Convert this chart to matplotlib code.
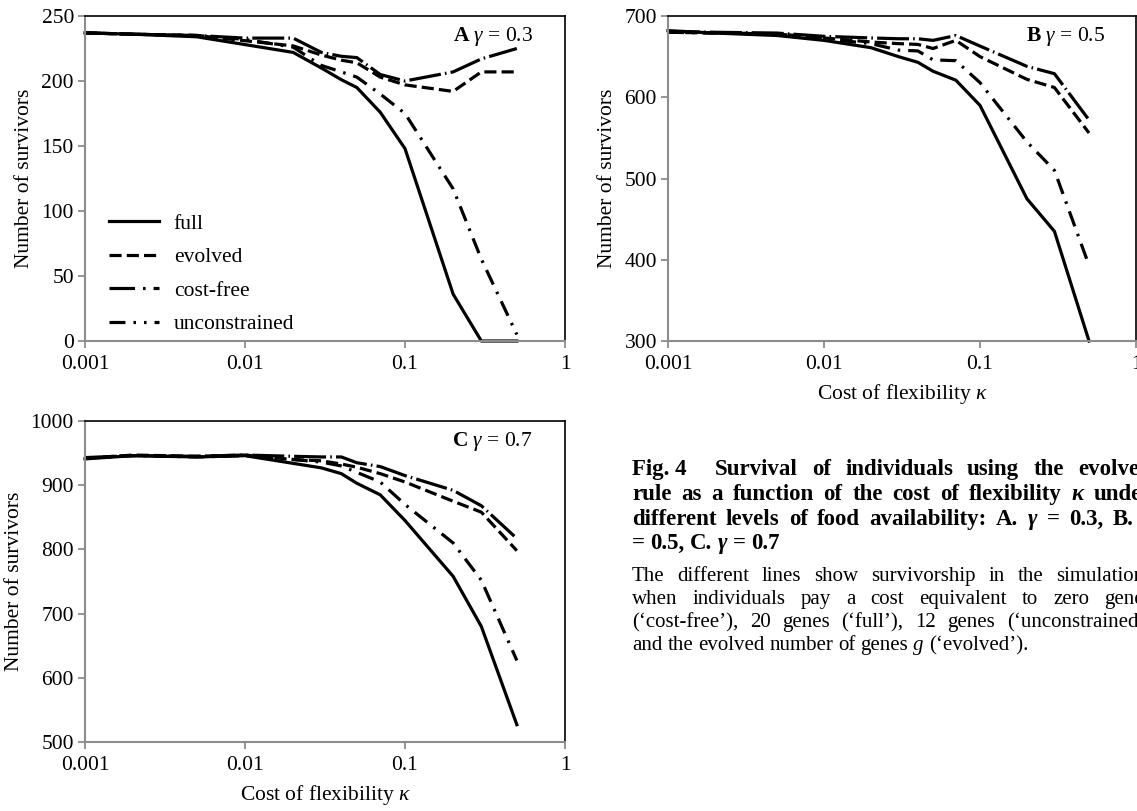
import matplotlib
matplotlib.use('Agg')
import matplotlib.pyplot as plt
from matplotlib.lines import Line2D
from matplotlib.ticker import NullLocator

plt.rcParams['font.family'] = 'Liberation Serif'
plt.rcParams['mathtext.fontset'] = 'custom'
plt.rcParams['mathtext.rm'] = 'Liberation Serif'
plt.rcParams['mathtext.it'] = 'Liberation Serif:italic'
plt.rcParams['mathtext.bf'] = 'Liberation Serif:bold'

# cost of flexibility (x values shared by all panels)
kappa = [0.001, 0.002, 0.005, 0.01, 0.02, 0.03, 0.04, 0.05, 0.07, 0.1, 0.2, 0.3, 0.5]

# A  gamma = 0.3
full_a = [237, 236, 234, 228, 222, 210, 201, 195, 176, 148, 36, 0, 0]
evolved_a = [237, 236, 235, 231, 227, 220, 216, 214, 203, 197, 192, 207, 207]
costfree_a = [237, 236, 235, 233, 233, 222, 219, 218, 205, 200, 207, 217, 225]
uncon_a = [237, 236, 235, 232, 226, 212, 207, 203, 190, 175, 117, 63, 5]

# B  gamma = 0.5
full_b = [682, 679, 676, 670, 661, 650, 643, 632, 621, 590, 475, 435, 300]
evolved_b = [680, 679, 678, 673, 668, 666, 665, 660, 670, 650, 622, 612, 556]
costfree_b = [681, 680, 679, 675, 673, 672, 672, 670, 676, 663, 638, 629, 572]
uncon_b = [680, 679, 678, 672, 666, 658, 657, 646, 645, 618, 545, 510, 393]

# C  gamma = 0.7
full_c = [941, 946, 944, 946, 934, 927, 918, 903, 885, 845, 758, 680, 527]
evolved_c = [942, 947, 945, 947, 940, 938, 933, 928, 918, 905, 875, 858, 798]
costfree_c = [943, 946, 945, 947, 945, 944, 944, 935, 929, 915, 892, 868, 817]
uncon_c = [942, 946, 944, 946, 940, 936, 930, 920, 905, 870, 810, 752, 627]

names = ['full', 'evolved', 'cost-free', 'unconstrained']
styles = ['-', (0, (3.8, 1.6)), (0, (10, 1.3, 0.5, 1.3)), (0, (5, 2.5, 0.8, 2.5))]
legend_styles = ['-', (0, (3.8, 1.6)), (0, (8, 2.5, 0.8, 2.5)), (0, (5, 2.5, 0.8, 2.5, 0.8, 2.5))]
LW = 2.3
FS = 15.5

W, H = 1137, 811
fig = plt.figure(figsize=(W / 100, H / 100), dpi=100)


def px_axes(left, top, right, bottom):
    return fig.add_axes([left / W, 1 - bottom / H, (right - left) / W, (bottom - top) / H])


def setup(ax, series, ylim, yticks, label, xlabel):
    for ys, ls in zip(series, styles):
        ax.plot(kappa, ys, color='black', lw=LW, ls=ls, clip_on=False)
    ax.set_xscale('log')
    ax.set_xlim(0.001, 1)
    ax.set_ylim(*ylim)
    ax.set_yticks(yticks)
    ax.set_xticks([0.001, 0.01, 0.1, 1])
    ax.set_xticklabels(['0.001', '0.01', '0.1', '1'])
    ax.xaxis.set_minor_locator(NullLocator())
    ax.tick_params(labelsize=FS, color='#8c8c8c', length=5, width=1.3, pad=3)
    ax.tick_params(axis='x', pad=5)
    for s in ['left', 'bottom']:
        ax.spines[s].set_color('#8c8c8c')
        ax.spines[s].set_linewidth(1.5)
    for s in ['top', 'right']:
        ax.spines[s].set_color('black')
        ax.spines[s].set_linewidth(1.2)
    ax.set_ylabel('Number of survivors', fontsize=FS, labelpad=5)
    if xlabel:
        ax.set_xlabel(r'Cost of flexibility $\mathit{\kappa}$', fontsize=FS, labelpad=6)
    ax.text(0.933, 0.937, label, transform=ax.transAxes, ha='right', va='center', fontsize=FS)


ax_a = px_axes(85, 16, 565, 341)
ax_b = px_axes(668, 16, 1136, 341)
ax_c = px_axes(85, 421, 565, 742)

setup(ax_a, [full_a, evolved_a, costfree_a, uncon_a], (0, 250), range(0, 251, 50),
      r'$\mathbf{A}$ $\mathit{\gamma}$ = 0.3', False)
setup(ax_b, [full_b, evolved_b, costfree_b, uncon_b], (300, 700), range(300, 701, 100),
      r'$\mathbf{B}$ $\mathit{\gamma}$ = 0.5', True)
setup(ax_c, [full_c, evolved_c, costfree_c, uncon_c], (500, 1000), range(500, 1001, 100),
      r'$\mathbf{C}$ $\mathit{\gamma}$ = 0.7', True)

handles = [Line2D([], [], color='black', lw=LW, ls=ls) for ls in legend_styles]
ax_a.legend(handles, names, loc='lower left', bbox_to_anchor=(0.028, -0.012), frameon=False,
            fontsize=FS, handlelength=2.3, handletextpad=0.7, labelspacing=0.62, borderpad=0)

# caption, set word by word so the lines can be justified
renderer = fig.canvas.get_renderer()
X0, X1 = 632, 1152


def put_line(words, y, size, justify=True, first_gap=0):
    items = []
    for w, kw in words:
        t = fig.text(0, 1 - y / H, w, fontsize=size, va='baseline', ha='left', **kw)
        items.append((t, t.get_window_extent(renderer).width))
    total = sum(w for _, w in items) + first_gap
    n = len(items)
    gap = size * 0.33
    if justify and n > 1:
        gap = max((X1 - X0 - total) / (n - 1), size * 0.25)
    x = X0
    for i, (t, w) in enumerate(items):
        t.set_x(x / W)
        x += w + gap + (first_gap if i == 0 else 0)


def words(text, kw, special=None):
    special = special or {}
    return [(w, special.get(w, kw)) for w in text.split(' ')]


B = {'fontweight': 'bold'}
BI = {'fontweight': 'bold', 'fontstyle': 'italic'}
N = {}
I = {'fontstyle': 'italic'}

put_line([('Fig. 4', B)] + words('Survival of individuals using the evolved', B), 475, 16.5, first_gap=14)
put_line(words('rule as a function of the cost of flexibility κ under', B, {'κ': BI}), 500, 16.5)
put_line(words('different levels of food availability: A. γ = 0.3, B. γ', B, {'γ': BI}), 525, 16.5)
put_line(words('= 0.5, C. γ = 0.7', B, {'γ': BI}), 549, 16.5, justify=False)
put_line(words('The different lines show survivorship in the simulations', N), 581, 15)
put_line(words('when individuals pay a cost equivalent to zero genes', N), 604, 15)
put_line(words('(‘cost-free’), 20 genes (‘full’), 12 genes (‘unconstrained’)', N), 627, 15)
put_line(words('and the evolved number of genes g (‘evolved’).', N, {'g': I}), 650, 15, justify=False)

fig.savefig('out.png', dpi=100)
